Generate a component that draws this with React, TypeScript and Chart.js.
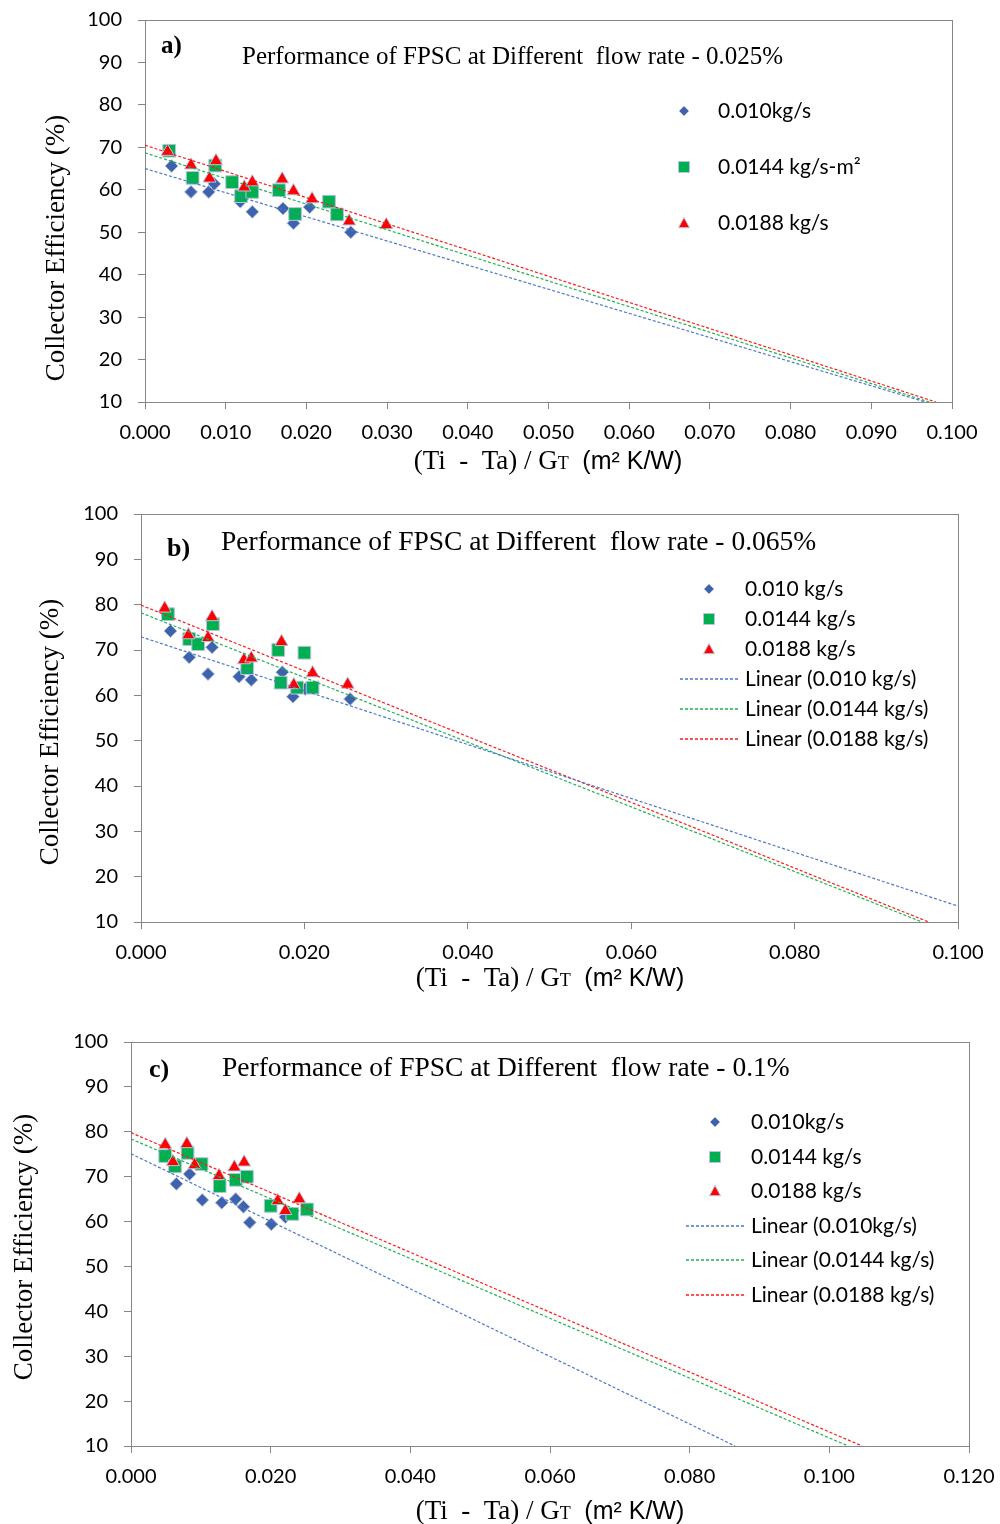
import { useEffect, useRef } from 'react';
import { Chart, registerables } from 'chart.js';
Chart.register(...registerables);

const FONT_SANS = 'Lato, "Liberation Sans", sans-serif';
const FONT_SERIF = '"Liberation Serif", "Times New Roman", serif';

// ---------- Panel a) 0.025% ----------
const aX010 = [0.0033, 0.0057, 0.0079, 0.0086, 0.0118, 0.0133, 0.0171, 0.0184, 0.0204, 0.0255];
const aY010 = [65.6, 59.5, 59.5, 61.4, 57.2, 54.8, 55.6, 52.1, 55.9, 50.0];
const aX0144 = [0.0030, 0.0059, 0.0087, 0.0108, 0.0119, 0.0133, 0.0166, 0.0186, 0.0228, 0.0238];
const aY0144 = [69.2, 62.8, 65.7, 61.8, 58.5, 59.5, 59.9, 54.3, 57.2, 54.2];
const aX0188 = [0.0028, 0.0057, 0.0080, 0.0088, 0.0123, 0.0133, 0.0170, 0.0184, 0.0207, 0.0253, 0.0299];
const aY0188 = [69.0, 65.8, 62.7, 66.8, 60.6, 61.8, 62.5, 59.7, 57.8, 52.6, 51.7];
const aTrendX010 = [0, 0.0967];
const aTrendY010 = [65.0, 10];
const aTrendX0144 = [0, 0.0972];
const aTrendY0144 = [68.7, 10];
const aTrendX0188 = [0, 0.0980];
const aTrendY0188 = [70.5, 10];

// ---------- Panel b) 0.065% ----------
const bX010 = [0.0036, 0.0059, 0.0082, 0.0087, 0.0120, 0.0135, 0.0173, 0.0186, 0.0201, 0.0256];
const bY010 = [74.2, 68.4, 64.7, 70.6, 64.1, 63.4, 65.1, 59.7, 61.4, 59.2];
const bX0144 = [0.0033, 0.0059, 0.0070, 0.0088, 0.0130, 0.0168, 0.0200, 0.0171, 0.0191, 0.0210];
const bY0144 = [77.9, 72.4, 71.3, 75.7, 66.0, 70.0, 69.4, 62.8, 61.7, 61.7];
const bX0188 = [0.0029, 0.0058, 0.0082, 0.0087, 0.0126, 0.0135, 0.0172, 0.0187, 0.0210, 0.0253];
const bY0188 = [79.2, 73.3, 72.7, 77.3, 67.8, 68.2, 71.8, 62.3, 64.9, 62.4];
const bTrendX010 = [0, 0.100];
const bTrendY010 = [72.9, 13.5];
const bTrendX0144 = [0, 0.0956];
const bTrendY0144 = [78.2, 10];
const bTrendX0188 = [0, 0.0964];
const bTrendY0188 = [79.9, 10];

// ---------- Panel c) 0.1% ----------
const cX010 = [0.0065, 0.0084, 0.0102, 0.0130, 0.0150, 0.0161, 0.0170, 0.0201, 0.0221];
const cY010 = [68.4, 70.6, 64.8, 64.2, 65.0, 63.3, 59.8, 59.4, 61.0];
const cX0144 = [0.0049, 0.0063, 0.0081, 0.0101, 0.0127, 0.0150, 0.0166, 0.0200, 0.0231, 0.0252];
const cY0144 = [74.6, 72.3, 75.3, 72.8, 67.9, 69.3, 70.0, 63.5, 61.7, 62.7];
const cX0188 = [0.0049, 0.0060, 0.0080, 0.0091, 0.0126, 0.0148, 0.0162, 0.0210, 0.0221, 0.0241];
const cY0188 = [77.1, 73.3, 77.3, 72.6, 70.2, 72.1, 73.2, 64.6, 62.4, 65.0];
const cTrendX010 = [0, 0.0865];
const cTrendY010 = [75.1, 10];
const cTrendX0144 = [0, 0.1027];
const cTrendY0144 = [78.4, 10];
const cTrendX0188 = [0, 0.1047];
const cTrendY0188 = [79.8, 10];

const yTickMin = 10;
const yTickMax = 100;
const yTickStep = 10;

const BLUE = '#3F62AD';
const GREEN = '#00B050';
const RED = '#FF0000';
const LINE_BLUE = '#4A78D0';
const LINE_GREEN = '#1DB350';
const LINE_RED = '#FF1A1A';
const MARKER_EDGE = '#B8C3DE';
const AXIS = '#868686';

type Kind = 'diamond' | 'square' | 'triangle';

function drawMarker(ctx: CanvasRenderingContext2D, kind: Kind, x: number, y: number, size: number, fill: string) {
  ctx.save();
  ctx.beginPath();
  if (kind === 'diamond') {
    const r = size / 2;
    ctx.moveTo(x, y - r);
    ctx.lineTo(x + r, y);
    ctx.lineTo(x, y + r);
    ctx.lineTo(x - r, y);
    ctx.closePath();
  } else if (kind === 'square') {
    const h = size / 2;
    ctx.rect(x - h, y - h, size, size);
  } else {
    const h = size / 2;
    ctx.moveTo(x, y - h);
    ctx.lineTo(x + h, y + h * 0.85);
    ctx.lineTo(x - h, y + h * 0.85);
    ctx.closePath();
  }
  ctx.fillStyle = fill;
  ctx.fill();
  ctx.lineWidth = 1;
  ctx.strokeStyle = MARKER_EDGE;
  ctx.stroke();
  ctx.restore();
}

interface Series { x: number[]; y: number[]; kind: Kind; color: string; label: string }
interface Trend { x: number[]; y: number[]; color: string; label: string }
interface LegendItem { text: string; kind: Kind | 'line'; color: string }
interface Panel {
  top: number; height: number;
  L: number; R: number; T: number; B: number;
  xMax: number; xStep: number;
  series: Series[]; trends: Trend[];
  tag: string; tagX: number; tagY: number; tagSize: number;
  title: string; titleX: number; titleY: number; titleSize: number;
  legend: LegendItem[]; legMarkerX: number; legTextX: number; legLineX1: number; legLineX2: number; legRows: number[];
  yTitleX: number; yTitleY: number;
  xTitleCX: number; xTitleBase: number;
}

const panels: Panel[] = [
  {
    top: 0, height: 490, L: 145, R: 952, T: 20, B: 402, xMax: 0.1, xStep: 0.01,
    series: [
      { x: aX010, y: aY010, kind: 'diamond', color: BLUE, label: '0.010kg/s' },
      { x: aX0144, y: aY0144, kind: 'square', color: GREEN, label: '0.0144 kg/s-m²' },
      { x: aX0188, y: aY0188, kind: 'triangle', color: RED, label: '0.0188 kg/s' },
    ],
    trends: [
      { x: aTrendX010, y: aTrendY010, color: LINE_BLUE, label: 'Linear (0.010kg/s)' },
      { x: aTrendX0144, y: aTrendY0144, color: LINE_GREEN, label: 'Linear (0.0144 kg/s-m²)' },
      { x: aTrendX0188, y: aTrendY0188, color: LINE_RED, label: 'Linear (0.0188 kg/s)' },
    ],
    tag: 'a)', tagX: 161, tagY: 47, tagSize: 25,
    title: 'Performance of FPSC at Different  flow rate - 0.025%', titleX: 242, titleY: 57, titleSize: 25,
    legend: [
      { text: '0.010kg/s', kind: 'diamond', color: BLUE },
      { text: '0.0144 kg/s-m²', kind: 'square', color: GREEN },
      { text: '0.0188 kg/s', kind: 'triangle', color: RED },
    ],
    legMarkerX: 684, legTextX: 718, legLineX1: 0, legLineX2: 0, legRows: [111, 167, 223],
    yTitleX: 57, yTitleY: 248, xTitleCX: 548, xTitleBase: 469,
  },
  {
    top: 490, height: 520, L: 141, R: 958, T: 514, B: 922, xMax: 0.1, xStep: 0.02,
    series: [
      { x: bX010, y: bY010, kind: 'diamond', color: BLUE, label: '0.010 kg/s' },
      { x: bX0144, y: bY0144, kind: 'square', color: GREEN, label: '0.0144 kg/s' },
      { x: bX0188, y: bY0188, kind: 'triangle', color: RED, label: '0.0188 kg/s' },
    ],
    trends: [
      { x: bTrendX010, y: bTrendY010, color: LINE_BLUE, label: 'Linear (0.010 kg/s)' },
      { x: bTrendX0144, y: bTrendY0144, color: LINE_GREEN, label: 'Linear (0.0144 kg/s)' },
      { x: bTrendX0188, y: bTrendY0188, color: LINE_RED, label: 'Linear (0.0188 kg/s)' },
    ],
    tag: 'b)', tagX: 167, tagY: 549, tagSize: 26,
    title: 'Performance of FPSC at Different  flow rate - 0.065%', titleX: 221, titleY: 543, titleSize: 27.5,
    legend: [
      { text: '0.010 kg/s', kind: 'diamond', color: BLUE },
      { text: '0.0144 kg/s', kind: 'square', color: GREEN },
      { text: '0.0188 kg/s', kind: 'triangle', color: RED },
      { text: 'Linear (0.010 kg/s)', kind: 'line', color: LINE_BLUE },
      { text: 'Linear (0.0144 kg/s)', kind: 'line', color: LINE_GREEN },
      { text: 'Linear (0.0188 kg/s)', kind: 'line', color: LINE_RED },
    ],
    legMarkerX: 709, legTextX: 745, legLineX1: 680, legLineX2: 738, legRows: [589, 619, 649, 679, 709, 739],
    yTitleX: 51, yTitleY: 732, xTitleCX: 550, xTitleBase: 986,
  },
  {
    top: 1010, height: 514, L: 131, R: 969, T: 1042, B: 1446, xMax: 0.12, xStep: 0.02,
    series: [
      { x: cX010, y: cY010, kind: 'diamond', color: BLUE, label: '0.010kg/s' },
      { x: cX0144, y: cY0144, kind: 'square', color: GREEN, label: '0.0144 kg/s' },
      { x: cX0188, y: cY0188, kind: 'triangle', color: RED, label: '0.0188 kg/s' },
    ],
    trends: [
      { x: cTrendX010, y: cTrendY010, color: LINE_BLUE, label: 'Linear (0.010kg/s)' },
      { x: cTrendX0144, y: cTrendY0144, color: LINE_GREEN, label: 'Linear (0.0144 kg/s)' },
      { x: cTrendX0188, y: cTrendY0188, color: LINE_RED, label: 'Linear (0.0188 kg/s)' },
    ],
    tag: 'c)', tagX: 149, tagY: 1070, tagSize: 26,
    title: 'Performance of FPSC at Different  flow rate - 0.1%', titleX: 222, titleY: 1069, titleSize: 27.5,
    legend: [
      { text: '0.010kg/s', kind: 'diamond', color: BLUE },
      { text: '0.0144 kg/s', kind: 'square', color: GREEN },
      { text: '0.0188 kg/s', kind: 'triangle', color: RED },
      { text: 'Linear (0.010kg/s)', kind: 'line', color: LINE_BLUE },
      { text: 'Linear (0.0144 kg/s)', kind: 'line', color: LINE_GREEN },
      { text: 'Linear (0.0188 kg/s)', kind: 'line', color: LINE_RED },
    ],
    legMarkerX: 715, legTextX: 751, legLineX1: 686, legLineX2: 744, legRows: [1122, 1157, 1191, 1226, 1260, 1295],
    yTitleX: 25, yTitleY: 1247, xTitleCX: 550, xTitleBase: 1519,
  },
];

const pointSize: Record<Kind, number> = { diamond: 6.5, square: 9, triangle: 7.5 };
const chartStyle: Record<Kind, string> = { diamond: 'rectRot', square: 'rect', triangle: 'triangle' };
const legendSize: Record<Kind, number> = { diamond: 10, square: 11, triangle: 11 };

function makeConfig(p: Panel): any {
  const datasets: any[] = [];
  p.trends.forEach((t) => {
    datasets.push({
      label: t.label,
      data: t.x.map((x, i) => ({ x, y: t.y[i] })),
      showLine: true,
      borderColor: t.color,
      borderWidth: 1.2,
      borderDash: [3, 2],
      pointRadius: 0,
      pointHoverRadius: 0,
      fill: false,
      order: 0,
    });
  });
  p.series.forEach((s, i) => {
    datasets.push({
      label: s.label,
      data: s.x.map((x, j) => ({ x, y: s.y[j] })),
      showLine: false,
      pointStyle: chartStyle[s.kind],
      pointRadius: pointSize[s.kind],
      pointHoverRadius: pointSize[s.kind],
      backgroundColor: s.color,
      borderColor: MARKER_EDGE,
      borderWidth: 1,
      order: 3 - i,
    });
  });

  const decor = {
    id: 'decor' + p.top,
    beforeDatasetsDraw(chart: any) {
      const ctx: CanvasRenderingContext2D = chart.ctx;
      const a = chart.chartArea;
      ctx.save();
      ctx.strokeStyle = AXIS;
      ctx.lineWidth = 1;
      ctx.strokeRect(Math.round(a.left) + 0.5, Math.round(a.top) + 0.5, Math.round(a.right - a.left), Math.round(a.bottom - a.top));
      ctx.restore();
    },
    afterDraw(chart: any) {
      const ctx: CanvasRenderingContext2D = chart.ctx;
      const off = p.top;
      ctx.save();
      ctx.fillStyle = '#000';
      ctx.textBaseline = 'middle';
      ctx.textAlign = 'left';
      // tag and title
      ctx.font = `bold ${p.tagSize}px ${FONT_SERIF}`;
      ctx.fillText(p.tag, p.tagX, p.tagY - off);
      ctx.font = `${p.titleSize}px ${FONT_SERIF}`;
      ctx.fillText(p.title, p.titleX, p.titleY - off);
      // legend
      p.legend.forEach((it, i) => {
        const y = p.legRows[i] - off;
        if (it.kind === 'line') {
          ctx.save();
          ctx.strokeStyle = it.color;
          ctx.lineWidth = 1.4;
          ctx.setLineDash([3, 2]);
          ctx.beginPath();
          ctx.moveTo(p.legLineX1, y);
          ctx.lineTo(p.legLineX2, y);
          ctx.stroke();
          ctx.restore();
        } else {
          drawMarker(ctx, it.kind, p.legMarkerX, y, legendSize[it.kind], it.color);
        }
        ctx.fillStyle = '#000';
        ctx.font = `21px ${FONT_SANS}`;
        ctx.textBaseline = 'middle';
        ctx.textAlign = 'left';
        ctx.fillText(it.text, p.legTextX, y);
      });
      // y title
      ctx.save();
      ctx.translate(p.yTitleX, p.yTitleY - off);
      ctx.rotate(-Math.PI / 2);
      ctx.textAlign = 'center';
      ctx.textBaseline = 'middle';
      ctx.font = `27px ${FONT_SERIF}`;
      ctx.fillText('Collector Efficiency (%)', 0, 0);
      ctx.restore();
      // x title (mixed fonts)
      const parts = [
        { t: '(Ti  -  Ta) / G', f: `27px ${FONT_SERIF}` },
        { t: 'T', f: `18px ${FONT_SERIF}` },
        { t: '  ', f: `27px ${FONT_SERIF}` },
        { t: '(m² K/W)', f: `25px "Liberation Sans", Arial, sans-serif` },
      ];
      let total = 0;
      parts.forEach((pt) => { ctx.font = pt.f; total += ctx.measureText(pt.t).width; });
      let x = p.xTitleCX - total / 2;
      ctx.textBaseline = 'alphabetic';
      ctx.textAlign = 'left';
      parts.forEach((pt) => {
        ctx.font = pt.f;
        ctx.fillText(pt.t, x, p.xTitleBase - off);
        x += ctx.measureText(pt.t).width;
      });
      ctx.restore();
    },
  };

  const H = p.height;
  return {
    type: 'scatter',
    data: { datasets },
    options: {
      animation: false,
      responsive: false,
      devicePixelRatio: 1,
      layout: { padding: { left: 0, top: p.T - p.top, right: 1000 - p.R, bottom: 0 } },
      plugins: { legend: { display: false }, tooltip: { enabled: false }, title: { display: false } },
      events: [],
      scales: {
        x: {
          type: 'linear',
          min: 0,
          max: p.xMax,
          afterFit: (s: any) => {
            s.height = H - (p.B - p.top);
            s.paddingLeft = 0; s.paddingRight = 0; s.paddingTop = 0; s.paddingBottom = 0;
          },
          ticks: {
            stepSize: p.xStep,
            autoSkip: false,
            maxRotation: 0,
            color: '#000',
            padding: 12,
            font: { family: FONT_SANS, size: 20 },
            callback: (v: any) => Number(v).toFixed(3),
          },
          grid: { drawOnChartArea: false, drawTicks: true, tickLength: 7, color: AXIS, tickColor: AXIS },
          border: { display: false },
        },
        y: {
          type: 'linear',
          min: yTickMin,
          max: yTickMax,
          afterFit: (s: any) => {
            s.width = p.L;
            s.paddingLeft = 0; s.paddingRight = 0; s.paddingTop = 0; s.paddingBottom = 0;
          },
          ticks: {
            stepSize: yTickStep,
            color: '#000',
            padding: 16,
            font: { family: FONT_SANS, size: 20 },
          },
          grid: { drawOnChartArea: false, drawTicks: true, tickLength: 7, color: AXIS, tickColor: AXIS },
          border: { display: false },
        },
      },
    },
    plugins: [decor],
  };
}

function PanelChart({ p }: { p: Panel }) {
  const ref = useRef<HTMLCanvasElement | null>(null);
  useEffect(() => {
    if (!ref.current) return;
    const chart = new Chart(ref.current, makeConfig(p));
    return () => chart.destroy();
  }, [p]);
  return (
    <canvas
      ref={ref}
      width={1000}
      height={p.height}
      style={{ position: 'absolute', left: 0, top: p.top, width: 1000, height: p.height }}
    />
  );
}

export default function App() {
  return (
    <div style={{ position: 'absolute', left: 0, top: 0, width: 1000, height: 1524, background: '#fff' }}>
      {panels.map((p) => (
        <PanelChart key={p.top} p={p} />
      ))}
    </div>
  );
}
